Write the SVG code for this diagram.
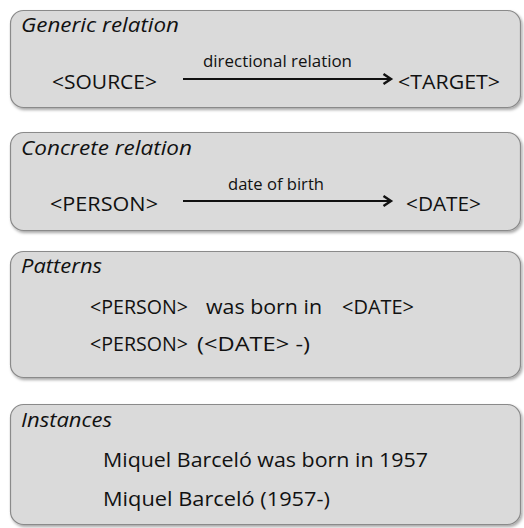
<svg xmlns="http://www.w3.org/2000/svg" width="524" height="528" viewBox="0 0 524 528">
  <defs>
    <filter id="sh" x="-5%" y="-10%" width="112%" height="125%">
      <feDropShadow dx="1.5" dy="2" stdDeviation="1.5" flood-color="#000" flood-opacity="0.35"/>
    </filter>
    <marker id="arr" markerWidth="14" markerHeight="14" refX="10" refY="7" orient="auto" markerUnits="userSpaceOnUse">
      <path d="M2.5,2 L10,7 L2.5,12" fill="none" stroke="#111" stroke-width="2.4" stroke-linejoin="miter"/>
    </marker>
  </defs>
  <style>
    .box { fill: #dadada; stroke: #8a8a8a; stroke-width: 1.2; filter: url(#sh); }
    text { font-family: "Open Sans", "Liberation Sans", sans-serif; fill: #111; }
    .title { font-style: italic; font-size: 20px; }
    .main { font-size: 20.5px; }
    .lbl { font-size: 15.5px; }
    .conn { stroke: #111; stroke-width: 2; fill: none; }
  </style>
  <rect width="524" height="528" fill="#ffffff"/>

  <g id="generic">
    <rect class="box" x="10.5" y="10.5" width="510" height="97" rx="13"/>
    <text class="title" x="21" y="32" textLength="158" lengthAdjust="spacingAndGlyphs">Generic relation</text>
    <text class="main" x="52" y="89" textLength="105" lengthAdjust="spacingAndGlyphs">&lt;SOURCE&gt;</text>
    <text class="lbl" x="203" y="67" textLength="149" lengthAdjust="spacingAndGlyphs">directional relation</text>
    <text class="main" x="398" y="89" textLength="102" lengthAdjust="spacingAndGlyphs">&lt;TARGET&gt;</text>
  </g>

  <g id="concrete">
    <rect class="box" x="10.5" y="132.5" width="510" height="98" rx="13"/>
    <text class="title" x="21" y="155" textLength="171" lengthAdjust="spacingAndGlyphs">Concrete relation</text>
    <text class="main" x="50" y="211" textLength="108" lengthAdjust="spacingAndGlyphs">&lt;PERSON&gt;</text>
    <text class="lbl" x="228" y="190" textLength="96" lengthAdjust="spacingAndGlyphs">date of birth</text>
    <text class="main" x="406" y="211" textLength="75" lengthAdjust="spacingAndGlyphs">&lt;DATE&gt;</text>
  </g>

  <g id="patterns">
    <rect class="box" x="10.5" y="251.5" width="510" height="126" rx="13"/>
    <text class="title" x="21" y="273" textLength="81" lengthAdjust="spacingAndGlyphs">Patterns</text>
    <text class="main" x="90" y="314" textLength="98" lengthAdjust="spacingAndGlyphs">&lt;PERSON&gt;</text>
    <text class="main" x="206" y="314" textLength="116" lengthAdjust="spacingAndGlyphs">was born in</text>
    <text class="main" x="342" y="314" textLength="72" lengthAdjust="spacingAndGlyphs">&lt;DATE&gt;</text>
    <text class="main" x="90" y="351" textLength="98" lengthAdjust="spacingAndGlyphs">&lt;PERSON&gt;</text>
    <text class="main" x="197" y="351" textLength="113" lengthAdjust="spacingAndGlyphs">(&lt;DATE&gt; -)</text>
  </g>

  <g id="instances">
    <rect class="box" x="10.5" y="404.5" width="510" height="120" rx="13"/>
    <text class="title" x="21" y="427" textLength="91" lengthAdjust="spacingAndGlyphs">Instances</text>
    <text class="main" x="103" y="467" textLength="325" lengthAdjust="spacingAndGlyphs">Miquel Barceló was born in 1957</text>
    <text class="main" x="103" y="506" textLength="227" lengthAdjust="spacingAndGlyphs">Miquel Barceló (1957-)</text>
  </g>

  <g id="connectors">
    <line class="conn" x1="183" y1="79" x2="391" y2="79" marker-end="url(#arr)"/>
    <line class="conn" x1="183" y1="201" x2="391" y2="201" marker-end="url(#arr)"/>
  </g>
</svg>
